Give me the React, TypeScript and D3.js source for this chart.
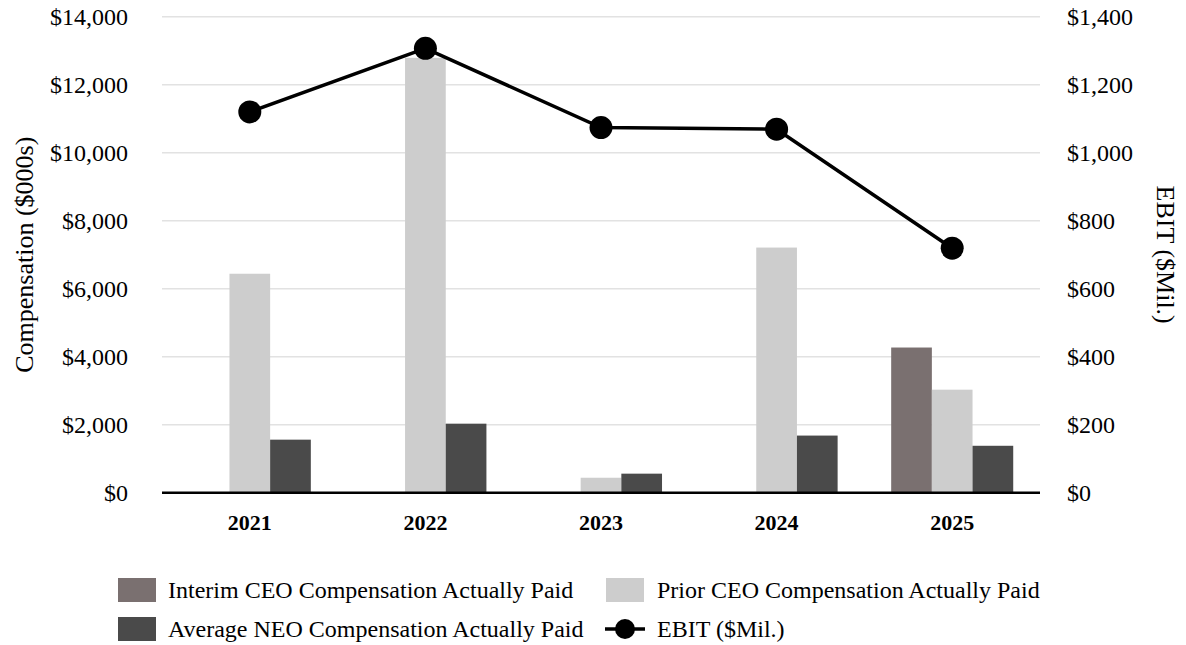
import React from 'react';
import * as d3 from 'd3';

const years = ['2021', '2022', '2023', '2024', '2025'];
const interimCeo: (number | null)[] = [null, null, null, null, 4270];
const priorCeo: (number | null)[] = [6440, 12790, 440, 7210, 3030];
const avgNeo: (number | null)[] = [1560, 2030, 560, 1680, 1380];
const ebit = [1120, 1307, 1074, 1069, 719];

const leftTicks = [0, 2000, 4000, 6000, 8000, 10000, 12000, 14000];
const rightTicks = [0, 200, 400, 600, 800, 1000, 1200, 1400];

const series = [
  { key: 'interim', label: 'Interim CEO Compensation Actually Paid', color: '#7a7070', values: interimCeo },
  { key: 'prior', label: 'Prior CEO Compensation Actually Paid', color: '#cdcdcd', values: priorCeo },
  { key: 'neo', label: 'Average NEO Compensation Actually Paid', color: '#4a4a4a', values: avgNeo },
];

const W = 1186;
const H = 645;
const FONT = '"Liberation Serif", "Times New Roman", serif';

const App: React.FC = () => {
  const left = 162;
  const right = 1040;
  const top = 16.7;
  const bottom = 492.7;

  const x = d3.scaleBand<string>().domain(years).range([left, right]).paddingInner(0.305).paddingOuter(0.1525);
  const sub = d3.scaleBand<string>().domain(series.map((s) => s.key)).range([0, x.bandwidth()]);
  const yL = d3.scaleLinear().domain([0, 14000]).range([bottom, top]);
  const yR = d3.scaleLinear().domain([0, 1400]).range([bottom, top]);
  const fmt = (v: number) => '$' + d3.format(',')(v);

  const line = d3
    .line<number>()
    .x((_, i) => (x(years[i]) ?? 0) + x.bandwidth() / 2)
    .y((d) => yR(d));

  return (
    <svg
      width={W}
      height={H}
      viewBox={`0 0 ${W} ${H}`}
      style={{ position: 'absolute', left: 0, top: 0, background: '#fff' }}
      fontFamily={FONT}
    >
      {/* grid */}
      {leftTicks.filter((t) => t > 0).map((t) => (
        <line key={t} x1={left} x2={right} y1={yL(t)} y2={yL(t)} stroke="#e2e2e2" strokeWidth={1.5} />
      ))}

      {/* bars */}
      {series.map((s) =>
        s.values.map((v, i) =>
          v == null ? null : (
            <rect
              key={s.key + i}
              x={(x(years[i]) ?? 0) + (sub(s.key) ?? 0)}
              y={yL(v)}
              width={sub.bandwidth()}
              height={bottom - yL(v)}
              fill={s.color}
            />
          )
        )
      )}

      {/* baseline */}
      <line x1={left} x2={right} y1={bottom} y2={bottom} stroke="#000" strokeWidth={2.5} />

      {/* EBIT line */}
      <path d={line(ebit) ?? ''} fill="none" stroke="#000" strokeWidth={3.5} />
      {ebit.map((v, i) => (
        <circle key={i} cx={(x(years[i]) ?? 0) + x.bandwidth() / 2} cy={yR(v)} r={11.5} fill="#000" />
      ))}

      {/* left axis */}
      {leftTicks.map((t) => (
        <text key={t} x={128} y={yL(t)} dy="0.35em" textAnchor="end" fontSize={24} fill="#000">
          {fmt(t)}
        </text>
      ))}
      {/* right axis */}
      {rightTicks.map((t) => (
        <text key={t} x={1067} y={yR(t)} dy="0.35em" textAnchor="start" fontSize={24} fill="#000">
          {fmt(t)}
        </text>
      ))}

      {/* x labels */}
      {years.map((yr) => (
        <text
          key={yr}
          x={(x(yr) ?? 0) + x.bandwidth() / 2}
          y={530}
          textAnchor="middle"
          fontSize={22}
          fontWeight="bold"
          fill="#000"
        >
          {yr}
        </text>
      ))}

      {/* axis titles */}
      <text transform={`translate(33, ${(top + bottom) / 2}) rotate(-90)`} textAnchor="middle" fontSize={26} fill="#000">
        Compensation ($000s)
      </text>
      <text transform={`translate(1157, ${(top + bottom) / 2}) rotate(90)`} textAnchor="middle" fontSize={26} fill="#000">
        EBIT ($Mil.)
      </text>

      {/* legend */}
      <g fontSize={24} fill="#000">
        <rect x={118} y={578} width={38} height={24} fill={series[0].color} />
        <text x={168} y={590} dy="0.35em">{series[0].label}</text>
        <rect x={606} y={578} width={38} height={24} fill={series[1].color} />
        <text x={657} y={590} dy="0.35em">{series[1].label}</text>
        <rect x={118} y={617} width={38} height={24} fill={series[2].color} />
        <text x={168} y={629} dy="0.35em">{series[2].label}</text>
        <line x1={605} x2={645} y1={629} y2={629} stroke="#000" strokeWidth={3.5} />
        <circle cx={625} cy={629} r={10} fill="#000" />
        <text x={657} y={629} dy="0.35em">EBIT ($Mil.)</text>
      </g>
    </svg>
  );
};

export default App;
